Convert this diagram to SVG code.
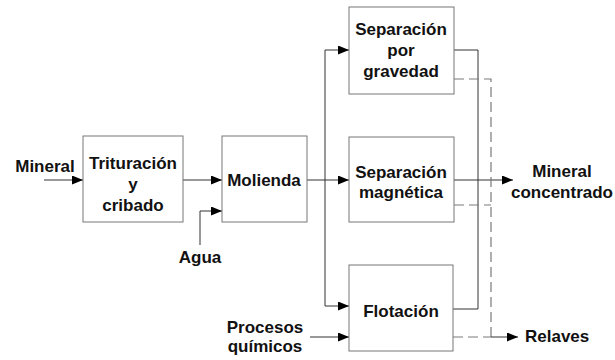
<svg xmlns="http://www.w3.org/2000/svg" width="615" height="360" viewBox="0 0 615 360">
<style>
text{font-family:"Liberation Sans",Arial,sans-serif;font-weight:bold;font-size:17px;fill:#111;text-anchor:middle}
.box{fill:#fff;stroke:#777;stroke-width:1}
.ln{fill:none;stroke:#333;stroke-width:1}
.ds{fill:none;stroke:#7a7a7a;stroke-width:1.2;stroke-dasharray:10 5}
</style>
<defs>
<marker id="ah" markerUnits="userSpaceOnUse" markerWidth="12" markerHeight="10" refX="11" refY="4.5" orient="auto">
<path d="M0,0 L11,4.5 L0,9 z" fill="#000"/>
</marker>
</defs>
<rect width="615" height="360" fill="#fff"/>
<g id="connectors">
<path class="ln" d="M44,180 H83" marker-end="url(#ah)"/>
<path class="ln" d="M183,180 H222" marker-end="url(#ah)"/>
<path class="ln" d="M200,245 V211 H222" marker-end="url(#ah)"/>
<path class="ln" d="M307,180 H349" marker-end="url(#ah)"/>
<path class="ln" d="M325,180 V50 H349" marker-end="url(#ah)"/>
<path class="ln" d="M325,180 V306 H349" marker-end="url(#ah)"/>
<path class="ln" d="M310,337 H349" marker-end="url(#ah)"/>
<path class="ln" d="M454,50 H478 V309 H453"/>
<path class="ln" d="M454,180 H513" marker-end="url(#ah)"/>
<path class="ds" d="M454,79 H491 V337"/>
<path class="ds" d="M454,205 H491"/>
<path class="ds" d="M453,337 H491"/>
<path class="ln" d="M491,337 H518" marker-end="url(#ah)"/>
</g>
<g id="trituracion">
<rect class="box" x="83" y="136" width="100" height="86"/>
<text x="133" y="169">Trituración</text>
<text x="133" y="190">y</text>
<text x="133" y="211">cribado</text>
</g>
<g id="molienda">
<rect class="box" x="222" y="136" width="85" height="86"/>
<text x="264" y="186">Molienda</text>
</g>
<g id="gravedad">
<rect class="box" x="349" y="7" width="105" height="87"/>
<text x="401" y="35">Separación</text>
<text x="401" y="56">por</text>
<text x="401" y="77">gravedad</text>
</g>
<g id="magnetica">
<rect class="box" x="349" y="137" width="105" height="85"/>
<text x="401" y="178">Separación</text>
<text x="401" y="198">magnética</text>
</g>
<g id="flotacion">
<rect class="box" x="349" y="265" width="104" height="86"/>
<text x="401" y="317">Flotación</text>
</g>
<g id="mineral">
<text x="45" y="172">Mineral</text>
</g>
<g id="agua">
<text x="200" y="263">Agua</text>
</g>
<g id="procesos">
<text x="265" y="333">Procesos</text>
<text x="265" y="352">químicos</text>
</g>
<g id="concentrado">
<text x="562" y="177">Mineral</text>
<text x="562" y="198">concentrado</text>
</g>
<g id="relaves">
<text x="525" y="342" style="text-anchor:start">Relaves</text>
</g>
</svg>
